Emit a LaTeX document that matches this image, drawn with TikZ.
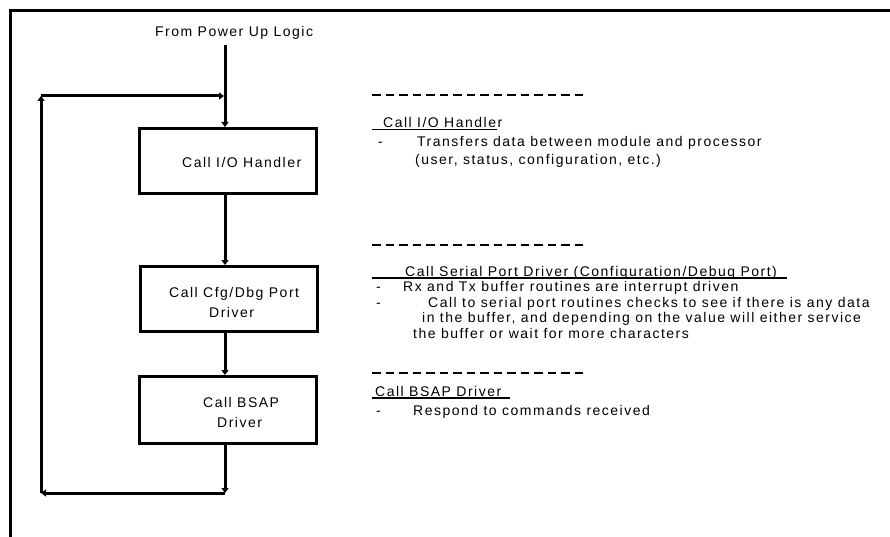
\documentclass[tikz,border=0pt]{standalone}
\usepackage{fontspec}
\setmainfont{Liberation Sans}[LetterSpace=10.7]
\usetikzlibrary{arrows.meta}
\begin{document}
\begin{tikzpicture}[x=1pt,y=-1pt,
  box/.style={draw, line width=3pt, minimum width=177pt, minimum height=65pt, inner sep=0pt},
  txt/.style={anchor=base west, inner sep=0pt, font=\fontsize{14}{16}\selectfont},
  flow/.style={line width=3pt, -{Triangle[length=5pt,width=7pt]}},
  frameline/.style={line width=3pt},
  dashsep/.style={line width=1.5pt, dash pattern=on 8.5pt off 5pt},
  uline/.style={line width=1.5pt}]
\useasboundingbox (0,0) rectangle (890,537);
% outer frame (partially visible)
\draw[frameline] (10,537) -- (10,11) -- (891,11);
% flow chart
\node[txt] (src) at (155,37) {From Power Up Logic};
\coordinate (top) at (225,45);
\node[box] (b1) at (228,161) {};
\node[box] (b2) at (228.5,299) {};
\node[box, minimum height=67pt] (b3) at (227.5,410) {};
\node[txt] (t1) at (182,168) {Call I/O Handler};
\node[txt] (t2a) at (169,297) {Call Cfg/Dbg Port};
\node[txt] (t2b) at (209,317) {Driver};
\node[txt] (t3a) at (203,407) {Call BSAP};
\node[txt] (t3b) at (217,427) {Driver};
\coordinate (br) at (225,493);
\coordinate (bl) at (41,493);
\coordinate (tl) at (41,96);
\coordinate (tr) at (225,96);
\draw[flow] (top) -- (top |- b1.north);
\draw[flow] (b1.south -| top) -- (b2.north -| top);
\draw[flow] (b2.south -| top) -- (b3.north -| top);
\draw[flow] (b3.south -| top) -- (br);
\draw[flow] (br) -- (bl);
\draw[flow] (bl) -- (tl);
\draw[flow, shorten >=1pt] (tl) -- (tr);
% right-hand notes
\draw[dashsep] (372,95) -- (585,95);
\node[txt] (h1) at (383,127.5) {Call I/O Handler};
\draw[uline] (372,129.5) -- (497,129.5);
\node[txt] (d1) at (378,146.5) {-};
\node[txt] (n1a) at (417,146.5) {Transfers data between module and processor};
\node[txt] (n1b) at (415,165) {(user, status, configuration, etc.)};

\draw[dashsep] (372,245) -- (585,245);
\node[txt] (h2) at (405,276) {Call Serial Port Driver (Configuration/Debug Port)};
\draw[uline] (372,278) -- (787,278);
\node[txt] (d2) at (376,291.5) {-};
\node[txt] (n2a) at (403,291.5) {Rx and Tx buffer routines are interrupt driven};
\node[txt] (d3) at (376,307) {-};
\node[txt] (n2b) at (428,307) {Call to serial port routines checks to see if there is any data};
\node[txt] (n2c) at (422,322.5) {in the buffer, and depending on the value will either service};
\node[txt] (n2d) at (413,338) {the buffer or wait for more characters};

\draw[dashsep] (372,373) -- (585,373);
\node[txt] (h3) at (375,396) {Call BSAP Driver};
\draw[uline] (372,398) -- (510,398);
\node[txt] (d4) at (376,415) {-};
\node[txt] (n3a) at (413,415) {Respond to commands received};
\end{tikzpicture}
\end{document}
